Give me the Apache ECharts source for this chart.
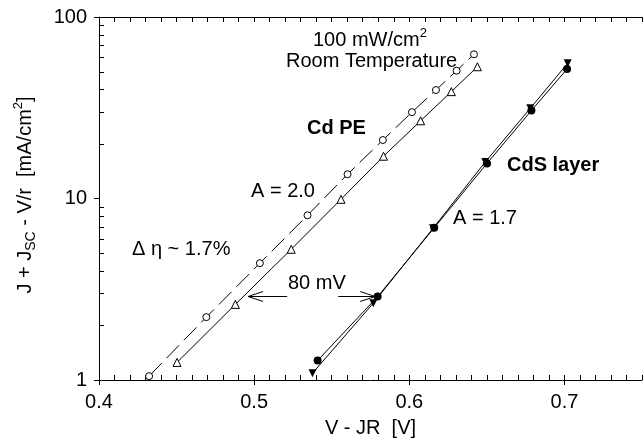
<!DOCTYPE html>
<html>
<head>
<meta charset="utf-8">
<script src="https://cdn.jsdelivr.net/npm/echarts@6/dist/echarts.min.js"></script>
<style>
  html, body { margin: 0; padding: 0; background: #fff; }
  #chart { width: 644px; height: 443px; }
</style>
</head>
<body>
<div id="chart"></div>
<script>
// Cd PE, open circles (dashed fit)
const cdPeCircleV = [0.4323, 0.4692, 0.5037, 0.5344, 0.5602, 0.583, 0.6017, 0.6172, 0.6305, 0.6417]
const cdPeCircleJ = [1.05, 2.22, 4.40, 8.08, 13.6, 21.0, 29.9, 39.6, 50.6, 62.3]
// Cd PE, open triangles
const cdPeTriV = [0.4503, 0.4879, 0.5239, 0.556, 0.5834, 0.6073, 0.6271, 0.6439]
const cdPeTriJ = [1.25, 2.61, 5.25, 9.9, 17.1, 26.8, 38.8, 53.2]
// CdS layer, filled circles
const cdsCircleV = [0.5409, 0.5796, 0.6161, 0.6501, 0.6787, 0.7017]
const cdsCircleJ = [1.28, 2.88, 6.90, 15.6, 30.5, 51.7]
// CdS layer, filled down triangles
const cdsTriV = [0.5376, 0.5768, 0.6153, 0.649, 0.678, 0.7021]
const cdsTriJ = [1.09, 2.65, 6.85, 15.9, 31.4, 55.6]

// 80 mV arrows: [from V, to V, J]
const arrows = [[0.5213, 0.4961, 2.9], [0.5542, 0.578, 2.9]]

const xMajorTicks = [0.4, 0.5, 0.6, 0.7]
const yMinorTicks = [2, 3, 4, 5, 6, 7, 8, 9, 20, 30, 40, 50, 60, 70, 80, 90]

const font = "'Liberation Sans', Arial, sans-serif"
const zip = (a, b) => a.map((v, i) => [v, b[i]])

const chart = echarts.init(document.getElementById('chart'))

const txt = (x, y, text, extra) => ({
  type: 'text',
  x: x,
  y: y,
  silent: true,
  style: Object.assign({
    text: text,
    fill: '#000',
    font: '20px ' + font,
    verticalAlign: 'middle'
  }, extra || {})
})

const supRich = {
  a: { fontSize: 20, fontFamily: font, color: '#000', lineHeight: 26 },
  p: { fontSize: 13, fontFamily: font, color: '#000', lineHeight: 13, verticalAlign: 'top' },
  s: { fontSize: 14, fontFamily: font, color: '#000', lineHeight: 14, verticalAlign: 'bottom' }
}

chart.setOption({
  animation: false,
  grid: { left: 99, right: 2, top: 17, bottom: 63 },
  xAxis: [{
    type: 'value',
    min: 0.4,
    max: 0.75,
    interval: 0.1,
    position: 'bottom',
    axisLine: { lineStyle: { color: '#000', width: 1 } },
    axisTick: { customValues: xMajorTicks, length: 5, lineStyle: { color: '#000' } },
    axisLabel: {
      customValues: xMajorTicks,
      formatter: v => v.toFixed(1),
      color: '#000',
      fontSize: 20,
      fontFamily: font,
      margin: 12
    },
    splitLine: { show: false },
    name: 'V - JR  [V]',
    nameLocation: 'middle',
    nameGap: 38,
    nameTextStyle: { color: '#000', fontSize: 20, fontFamily: font }
  }, {
    type: 'value',
    min: 0.4,
    max: 0.75,
    interval: 0.01,
    position: 'top',
    axisLine: { lineStyle: { color: '#000', width: 1 } },
    axisTick: { inside: true, length: 5, lineStyle: { color: '#000' } },
    axisLabel: { show: false },
    splitLine: { show: false }
  }, {
    type: 'value',
    min: 0.4,
    max: 0.75,
    interval: 0.01,
    position: 'bottom',
    axisLine: { show: false },
    axisTick: { inside: true, length: 5, lineStyle: { color: '#000' } },
    axisLabel: { show: false },
    splitLine: { show: false }
  }],
  yAxis: {
    type: 'log',
    logBase: 10,
    min: 1,
    max: 100,
    axisLine: { show: true, lineStyle: { color: '#000', width: 1 } },
    axisTick: { show: true, length: 5, lineStyle: { color: '#000' } },
    axisLabel: { color: '#000', fontSize: 20, fontFamily: font, margin: 12 },
    splitLine: { show: false }
  },
  graphic: [
    {
      type: 'text',
      x: 25,
      y: 195,
      rotation: Math.PI / 2,
      silent: true,
      style: {
        text: '{a|J + J}{s|SC}{a| - V/r  [mA/cm}{p|2}{a|]}',
        rich: supRich,
        align: 'center',
        verticalAlign: 'middle'
      }
    },
    txt(313, 40, '{a|100 mW/cm}{p|2}', { rich: supRich }),
    txt(286, 61, 'Room Temperature'),
    txt(307, 128, 'Cd PE', { font: 'bold 20px ' + font }),
    txt(251, 191, 'A = 2.0'),
    txt(132, 249, 'Δ η ~ 1.7%'),
    txt(288, 283, '80 mV'),
    txt(507, 165, 'CdS layer', { font: 'bold 20px ' + font }),
    txt(453, 218, 'A = 1.7')
  ],
  series: [
    {
      name: 'Cd PE circles',
      type: 'line',
      data: zip(cdPeCircleV, cdPeCircleJ),
      symbol: 'circle',
      symbolSize: 7,
      itemStyle: { color: '#fff', borderColor: '#000', borderWidth: 1 },
      lineStyle: { color: '#000', width: 1, type: [18, 7] },
      silent: true,
      z: 3
    },
    {
      name: 'Cd PE triangles',
      type: 'line',
      data: zip(cdPeTriV, cdPeTriJ),
      symbol: 'triangle',
      symbolSize: 8,
      itemStyle: { color: '#fff', borderColor: '#000', borderWidth: 1 },
      lineStyle: { color: '#000', width: 1 },
      silent: true,
      z: 3
    },
    {
      name: 'CdS circles',
      type: 'line',
      data: zip(cdsCircleV, cdsCircleJ),
      symbol: 'circle',
      symbolSize: 8,
      itemStyle: { color: '#000' },
      lineStyle: { color: '#000', width: 1 },
      silent: true,
      z: 3
    },
    {
      name: 'CdS triangles',
      type: 'line',
      data: zip(cdsTriV, cdsTriJ),
      symbol: 'triangle',
      symbolRotate: 180,
      symbolSize: 8,
      itemStyle: { color: '#000' },
      lineStyle: { color: '#000', width: 1 },
      silent: true,
      z: 3
    },
    {
      name: 'y minor ticks',
      type: 'custom',
      silent: true,
      data: yMinorTicks.map(v => [0.4, v]),
      renderItem: (params, api) => {
        const p = api.coord([api.value(0), api.value(1)])
        const y = Math.round(p[1]) + 0.5
        return {
          type: 'line',
          shape: { x1: p[0], y1: y, x2: p[0] + 5, y2: y },
          style: { stroke: '#000', lineWidth: 1 }
        }
      }
    },
    {
      name: 'arrows',
      type: 'custom',
      silent: true,
      data: arrows,
      renderItem: (params, api) => {
        const a = api.coord([api.value(0), api.value(2)])
        const b = api.coord([api.value(1), api.value(2)])
        const y = Math.round(b[1]) + 0.5
        const dir = b[0] > a[0] ? 1 : -1
        const style = { stroke: '#000', lineWidth: 1, fill: null }
        return {
          type: 'group',
          children: [
            { type: 'line', shape: { x1: a[0], y1: y, x2: b[0], y2: y }, style: style },
            {
              type: 'polyline',
              shape: { points: [[b[0] - dir * 15, y - 5], [b[0], y], [b[0] - dir * 15, y + 5]] },
              style: style
            }
          ]
        }
      }
    }
  ]
})
</script>
</body>
</html>
